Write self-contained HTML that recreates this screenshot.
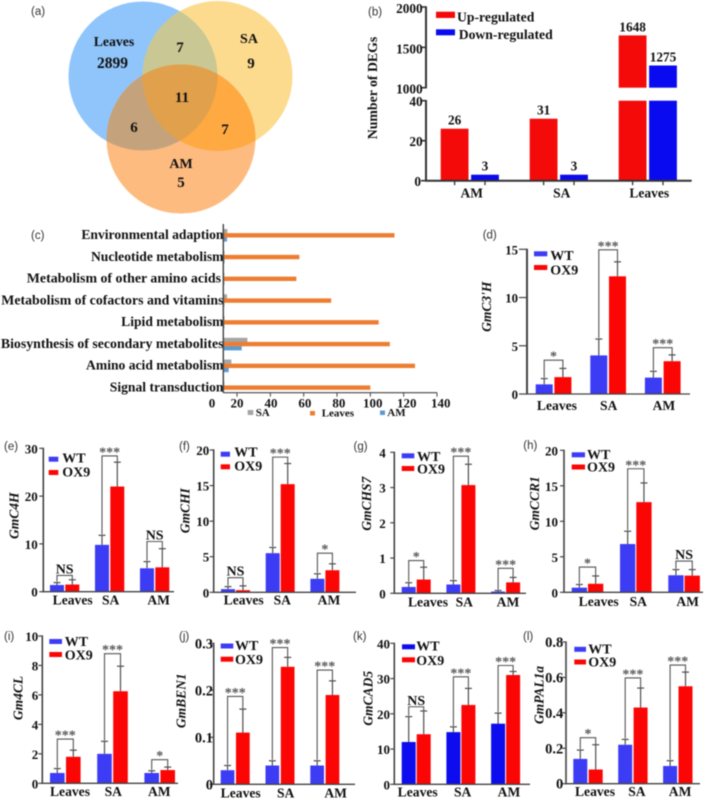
<!DOCTYPE html>
<html lang="en">
<head>
<meta charset="utf-8">
<title>DEG analysis and gene expression panels</title>
<style>
html,body{margin:0;padding:0;background:#fff;width:709px;height:799px;overflow:hidden}
svg{display:block;filter:blur(0.4px)}
text{font-family:"Liberation Serif",serif;font-weight:bold;fill:#111}
.plabel{font-family:"Liberation Sans",sans-serif;font-weight:normal;font-size:11.5px;fill:#333}
</style>
</head>
<body>
<svg id="fig" xmlns="http://www.w3.org/2000/svg" width="709" height="799" viewBox="0 0 709 799">
  <defs>
    <clipPath id="clip-sa"><circle cx="217.5" cy="76" r="75"/></clipPath>
    <clipPath id="clip-am"><circle cx="181" cy="139" r="74.5"/></clipPath>
  </defs>
  <g>
    <circle cx="143" cy="76" r="74.5" fill="#8fc5fb"/>
    <circle cx="217.5" cy="76" r="75" fill="#fcdb8e"/>
    <circle cx="181" cy="139" r="74.5" fill="#fdbb80"/>
    <circle cx="143" cy="76" r="74.5" fill="#c9c794" clip-path="url(#clip-sa)"/>
    <circle cx="143" cy="76" r="74.5" fill="#c4a37c" clip-path="url(#clip-am)"/>
    <circle cx="217.5" cy="76" r="75" fill="#fea942" clip-path="url(#clip-am)"/>
    <g clip-path="url(#clip-sa)"><circle cx="143" cy="76" r="74.5" fill="#e0a04c" clip-path="url(#clip-am)"/></g>
    <g text-anchor="middle" fill="#111">
      <text x="114" y="46" font-size="13.8">Leaves</text>
      <text x="112.5" y="68" font-size="15.5">2899</text>
      <text x="180" y="52" font-size="15">7</text>
      <text x="249" y="43" font-size="14">SA</text>
      <text x="251" y="68" font-size="15">9</text>
      <text x="182" y="102" font-size="15">11</text>
      <text x="134" y="132" font-size="15">6</text>
      <text x="225" y="134" font-size="15">7</text>
      <text x="181" y="168" font-size="14">AM</text>
      <text x="181" y="187" font-size="15">5</text>
    </g>
  </g>
  <g id="plot-root"></g>
</svg>
<script>
/* ---------- panel (b) data ---------- */
const degGroups = ['AM', 'SA', 'Leaves'];
const degUp = [26, 31, 1648];
const degDown = [3, 3, 1275];
const degTicksHigh = [1000, 1500, 2000];
const degTicksLow = [0, 20, 40];

/* ---------- panel (c) data ---------- */
const pathways = ['Environmental adaption', 'Nucleotide metabolism', 'Metabolism of other amino acids', 'Metabolism of cofactors and vitamins', 'Lipid metabolism', 'Biosynthesis of secondary metabolites', 'Amino acid metabolism', 'Signal transduction'];
const pathLeaves = [114.5, 57.4, 55.6, 76.5, 105, 111.7, 126.8, 100];
const pathSA = [14.2, 12.5, 12.4, 14, 12.5, 26.2, 16.6, 12.4];
const pathAM = [14, 12.5, 12.4, 12.4, 12.4, 22.8, 15, 11.8];
const pathTicks = [0, 20, 40, 60, 80, 100, 120, 140];

/* ---------- expression panels data ---------- */
const tissues = ['Leaves', 'SA', 'AM'];

const c3hWT = [1, 4, 1.7];
const c3hWTErr = [0.6, 1.7, 0.65];
const c3hOX = [1.75, 12.2, 3.4];
const c3hOXErr = [0.9, 1.5, 0.65];
const c3hSig = ['*', '***', '***'];
const c3hBracket = [3.5, 14.95, 4.8];
const c3hTicks = [0, 5, 10, 15];

const c4hWT = [1.4, 9.8, 4.9];
const c4hWTErr = [0.5, 2, 1.4];
const c4hOX = [1.5, 22, 5.1];
const c4hOXErr = [1, 5.1, 3.9];
const c4hSig = ['NS', '***', 'NS'];
const c4hBracket = [3.4, 28.4, 10.5];
const c4hTicks = [0, 10, 20, 30];

const chiWT = [0.45, 5.5, 1.9];
const chiWTErr = [0.35, 0.8, 0.7];
const chiOX = [0.3, 15.2, 3.1];
const chiOXErr = [0.6, 2.9, 0.9];
const chiSig = ['NS', '***', '*'];
const chiBracket = [2.05, 19, 5.5];
const chiTicks = [0, 5, 10, 15, 20];

const chs7WT = [0.18, 0.25, 0.05];
const chs7WTErr = [0.12, 0.11, 0.03];
const chs7OX = [0.39, 3.07, 0.31];
const chs7OXErr = [0.35, 0.59, 0.14];
const chs7Sig = ['*', '***', '***'];
const chs7Bracket = [0.93, 3.89, 0.71];
const chs7Ticks = [0, 1, 2, 3, 4];

const ccr1WT = [0.65, 6.8, 2.4];
const ccr1WTErr = [0.45, 1.8, 0.8];
const ccr1OX = [1.2, 12.7, 2.35];
const ccr1OXErr = [1.1, 2.7, 0.85];
const ccr1Sig = ['*', '***', 'NS'];
const ccr1Bracket = [3.55, 17.4, 4.4];
const ccr1Ticks = [0, 5, 10, 15, 20];

const cl4WT = [0.7, 2, 0.7];
const cl4WTErr = [0.3, 0.85, 0.15];
const cl4OX = [1.8, 6.25, 0.9];
const cl4OXErr = [0.45, 1.7, 0.2];
const cl4Sig = ['***', '***', '*'];
const cl4Bracket = [3, 8.8, 1.6];
const cl4Ticks = [0, 2, 4, 6, 8, 10];

const ben1WT = [0.03, 0.04, 0.04];
const ben1WTErr = [0.01, 0.01, 0.01];
const ben1OX = [0.11, 0.25, 0.19];
const ben1OXErr = [0.05, 0.02, 0.03];
const ben1Sig = ['***', '***', '***'];
const ben1Bracket = [0.187, 0.291, 0.243];
const ben1Ticks = ['0', '0.1', '0.2', '0.3'];

const cad5WT = [12, 14.8, 17.2];
const cad5WTErr = [7.2, 1.5, 3];
const cad5OX = [14.2, 22.5, 31];
const cad5OXErr = [6.6, 4.7, 1];
const cad5Sig = ['NS', '***', '***'];
const cad5Bracket = [22, 30.5, 33.7];
const cad5Ticks = [0, 10, 20, 30, 40];

const pal1aWT = [0.14, 0.22, 0.1];
const pal1aWTErr = [0.05, 0.03, 0.03];
const pal1aOX = [0.08, 0.43, 0.55];
const pal1aOXErr = [0.14, 0.11, 0.08];
const pal1aSig = ['*', '***', '***'];
const pal1aBracket = [0.26, 0.597, 0.67];
const pal1aTicks = ['0', '0.2', '0.4', '0.6', '0.8'];

/* ---------- helpers ---------- */
const SVGNS = 'http://www.w3.org/2000/svg';
const root = document.getElementById('plot-root');
function mk(parent, tag, attrs, name, txt) {
  const el = document.createElementNS(SVGNS, tag);
  for (const k in attrs) el.setAttribute(k, attrs[k]);
  
  
  if (txt !== undefined) el.textContent = txt;
  parent.appendChild(el);
  return el;
}
function line(p, x1, y1, x2, y2, color, w, name) {
  return mk(p, 'line', {x1: x1, y1: y1, x2: x2, y2: y2, stroke: color, 'stroke-width': w}, name);
}
function box(p, x1, y1, x2, y2, fill, name) {
  return mk(p, 'rect', {x: Math.min(x1, x2), y: Math.min(y1, y2), width: Math.abs(x2 - x1), height: Math.abs(y2 - y1), fill: fill}, name);
}
function label(p, x, y, size, anchor, str, name, extra) {
  const a = Object.assign({x: x, y: y, 'font-size': size, 'text-anchor': anchor}, extra || {});
  return mk(p, 'text', a, name, str);
}

/* ---------- panel letters ---------- */
[['(a)',31,15],['(b)',368,15.7],['(c)',31,239],['(d)',482.7,238.3],['(e)',4,450],['(f)',179,450],['(g)',353.5,450],['(h)',523.3,449],['(i)',4,640],['(j)',179,640],['(k)',353,640],['(l)',523,640]].forEach(function (l) {
  mk(root, 'text', {x: l[1], y: l[2], class: 'plabel'}, 'panel-label', l[0]);
});

/* ---------- panel (b) ---------- */
(function () {
  const g = mk(root, 'g', {}, 'deg-bar-chart');
  const axisX = 426, lowBase = 180.7, lowPerUnit = 2, highBase = 87.7, highPerUnit = 0.0807, axisColor = '#333';
  const yLow = function (v) { return lowBase - v * lowPerUnit; };
  const yHigh = function (v) { return highBase - (v - 1000) * highPerUnit; };
  const groupX = function (i) { return 440.7 + i * 89; };
  const barW = 27.8, gap = 2.6;
  function drawBar(x, v, fill, nm) {
    if (v <= 40) {
      box(g, x, lowBase, x + barW, yLow(v), fill, nm);
      return yLow(v);
    }
    box(g, x, lowBase, x + barW, yLow(40), fill, nm + '-lower');
    box(g, x, highBase, x + barW, yHigh(v), fill, nm + '-upper');
    return yHigh(v);
  }
  degGroups.forEach(function (name, i) {
    const x = groupX(i);
    const topU = drawBar(x, degUp[i], '#f50a0a', 'bar-up-' + name.toLowerCase());
    const topD = drawBar(x + barW + gap, degDown[i], '#0a0af0', 'bar-down-' + name.toLowerCase());
    label(g, x + barW / 2, topU - 4, 13.3, 'middle', String(degUp[i]), 'value-label');
    label(g, x + 1.5 * barW + gap, topD - 4, 13.3, 'middle', String(degDown[i]), 'value-label');
    line(g, x + barW / 2, lowBase, x + barW / 2, lowBase + 4.5, axisColor, 1.3, 'x-tick');
    line(g, x + 1.5 * barW + gap, lowBase, x + 1.5 * barW + gap, lowBase + 4.5, axisColor, 1.3, 'x-tick');
    label(g, x + barW + gap / 2 + [2, 3, 1.5][i], 197.7, 13.5, 'middle', name, 'x-category-label');
  });
  line(g, axisX, yHigh(2000) - 0.7, axisX, highBase + 0.7, axisColor, 2, 'y-axis-upper');
  line(g, axisX, yLow(40) - 0.7, axisX, lowBase, axisColor, 2, 'y-axis-lower');
  line(g, axisX - 1, lowBase, 691.7, lowBase, axisColor, 2, 'x-axis');
  degTicksHigh.forEach(function (t) {
    line(g, axisX - 5, yHigh(t), axisX, yHigh(t), axisColor, 1.6, 'y-tick');
    label(g, 422.7, yHigh(t) + 6, 13.3, 'end', String(t), 'y-tick-label');
  });
  degTicksLow.forEach(function (t) {
    line(g, axisX - 5, yLow(t), axisX, yLow(t), axisColor, 1.6, 'y-tick');
    label(g, t === 0 ? 421 : 422.7, yLow(t) + 5.5, 13.3, 'end', String(t), 'y-tick-label');
  });
  box(g, 436, 11.7, 455, 18, '#f50a0a', 'legend-up-swatch');
  label(g, 457, 21.7, 13.7, 'start', 'Up-regulated', 'legend-up-label');
  box(g, 436, 29.3, 455, 35.3, '#0a0af0', 'legend-down-swatch');
  label(g, 458.7, 39, 13.7, 'start', 'Down-regulated', 'legend-down-label');
  label(g, 377, 88, 13.8, 'middle', 'Number of DEGs', 'y-axis-title', {transform: 'rotate(-90 377 88)'});
})();

/* ---------- panel (c) ---------- */
(function () {
  const g = mk(root, 'g', {}, 'pathway-bar-chart');
  const axisX = 223.3, axisY = 392.7, axisColor = '#444';
  const x = function (v) { return 203.7 + v * 1.6665; };
  const tickLabelX = function (v) { return v === 0 ? 212 : 237 + (v - 20) * 1.6975; };
  const rowY = function (i) { return 235.3 + i * 21.76; };
  const labelSizes = [13.6, 13.6, 13.9, 13.85, 13.6, 13.85, 13.6, 13.6];
  const labelRight = [223.5, 223.5, 221, 223.5, 223.5, 223.5, 223.5, 223.5];
  pathways.forEach(function (name, i) {
    const c = rowY(i);
    box(g, axisX, c - 6.3, x(pathSA[i]), c - 2, '#a5a5a5', 'bar-sa');
    box(g, axisX, c + 2, x(pathAM[i]), c + 6.3, '#5b9bd5', 'bar-am');
    box(g, axisX, c - 2.2, x(pathLeaves[i]), c + 2.2, '#ed7d31', 'bar-leaves');
    label(g, labelRight[i], c + 3.8, labelSizes[i], 'end', name, 'y-category-label');
  });
  line(g, axisX, 224, axisX, axisY, axisColor, 1.4, 'y-axis');
  line(g, axisX, axisY, x(140), axisY, axisColor, 1.1, 'x-axis');
  pathTicks.forEach(function (t) {
    if (t > 0) line(g, x(t), axisY, x(t), axisY + 4, axisColor, 1, 'x-tick');
    label(g, tickLabelX(t), 407.7, 13, 'middle', String(t), 'x-tick-label');
  });
  box(g, 247.7, 410, 253.3, 415, '#a5a5a5', 'legend-sa-swatch');
  label(g, 255.7, 416, 11, 'start', 'SA', 'legend-sa-label');
  box(g, 310, 411, 315, 415.5, '#ed7d31', 'legend-leaves-swatch');
  label(g, 321.7, 416.7, 11, 'start', 'Leaves', 'legend-leaves-label');
  box(g, 380, 410.5, 385, 415, '#5b9bd5', 'legend-am-swatch');
  label(g, 387.3, 416, 11, 'start', 'AM', 'legend-am-label');
})();

/* ---------- expression panels ---------- */
function expressionPanel(o) {
  const g = mk(root, 'g', {}, 'chart-' + o.key);
  const axisColor = '#444', errColor = '#4d4d4d';
  const y = function (v) { return o.y0 - (v / o.yMax) * (o.y0 - o.yTop); };
  const wtX = function (i) { return o.x0 + i * o.step; };
  const oxX = function (i) { return wtX(i) + o.w + o.gap; };
  tissues.forEach(function (name, i) {
    const lx = wtX(i), rx = oxX(i), cl = lx + o.w / 2, cr = rx + o.w / 2;
    const wtTop = y(o.wt[i] + o.wtErr[i]), oxTop = y(o.ox[i] + o.oxErr[i]);
    line(g, cl, y(o.wt[i]), cl, wtTop, errColor, 1.2, 'error-bar-wt');
    line(g, cl - 3.5, wtTop, cl + 3.5, wtTop, errColor, 1.2, 'error-cap-wt');
    line(g, cr, y(o.ox[i]), cr, oxTop, errColor, 1.2, 'error-bar-ox9');
    line(g, cr - 3.5, oxTop, cr + 3.5, oxTop, errColor, 1.2, 'error-cap-ox9');
    box(g, lx, o.y0, lx + o.w, y(o.wt[i]), o.wtColor || '#3c3cf5', 'bar-wt-' + name.toLowerCase());
    box(g, rx, o.y0, rx + o.w, y(o.ox[i]), '#fb0505', 'bar-ox9-' + name.toLowerCase());
    const by = y(o.bracket[i]);
    mk(g, 'path', {d: 'M' + cl + ' ' + (wtTop - 1) + 'V' + by + 'H' + cr + 'V' + oxTop, fill: 'none', stroke: '#555', 'stroke-width': 1.1}, 'significance-bracket');
    if (o.sig[i] === 'NS') {
      label(g, (cl + cr) / 2, by - 2, 14, 'middle', 'NS', 'significance-label');
    } else {
      label(g, (cl + cr) / 2, by + 0.5, 14, 'middle', o.sig[i], 'significance-label', {style: 'fill:#555'});
    }
    label(g, (cl + cr) / 2 + o.catNudge[i], o.catY, 13.6, 'middle', name, 'x-category-label');
  });
  line(g, o.axisX, o.y0 + 0.5, o.axisX, o.yTop - 0.6, axisColor, o.axisW || 1.6, 'y-axis');
  line(g, o.axisX - 1, o.y0, o.xEnd, o.y0, axisColor, 1.3, 'x-axis');
  o.ticks.forEach(function (t) {
    const v = Number(t);
    line(g, o.axisX - (o.tickLen || 4), y(v), o.axisX, y(v), axisColor, 1.2, 'y-tick');
    label(g, o.tickRight, y(v) + 5, o.tickSize || 13, 'end', String(t), 'y-tick-label');
  });
  box(g, o.legX, o.legY1, o.legX + o.legW, o.legY1 + 5, o.wtColor || '#3c3cf5', 'legend-wt-swatch');
  box(g, o.legX, o.legY2, o.legX + o.legW, o.legY2 + 5, '#fb0505', 'legend-ox9-swatch');
  label(g, o.legTextX, o.legB1, 14, 'start', 'WT', 'legend-wt-label');
  label(g, o.legTextX, o.legB2, 14, 'start', 'OX9', 'legend-ox9-label');
  label(g, o.titleX + 4, o.titleY, 13.5, 'middle', o.title, 'y-axis-title', {transform: 'rotate(-90 ' + (o.titleX + 4) + ' ' + o.titleY + ')', 'font-style': 'italic'});
}

expressionPanel({key: 'gmc3h', title: "GmC3'H", wt: c3hWT, wtErr: c3hWTErr, ox: c3hOX, oxErr: c3hOXErr, sig: c3hSig, bracket: c3hBracket, ticks: c3hTicks,
  yMax: 15, y0: 394, yTop: 249.3, x0: 535.7, step: 54.6, w: 17, gap: 1.7, axisX: 527, axisW: 2, tickLen: 8, xEnd: 690, tickRight: 518, tickSize: 12.8,
  catNudge: [3.4, 0.5, 1.2], catY: 410, legX: 534, legW: 13.3, legY1: 251.3, legY2: 265, legTextX: 550.3, legB1: 260, legB2: 274.3, titleX: 487, titleY: 306.7});
expressionPanel({key: 'gmc4h', title: 'GmC4H', wt: c4hWT, wtErr: c4hWTErr, ox: c4hOX, oxErr: c4hOXErr, sig: c4hSig, bracket: c4hBracket, ticks: c4hTicks,
  yMax: 30, y0: 591.7, yTop: 448.3, x0: 50, step: 45, w: 14, gap: 1.3, axisX: 43.3, xEnd: 174, tickRight: 37.7,
  catNudge: [8, 1, 4], catY: 604.3, legX: 48.7, legW: 9.6, legY1: 456.7, legY2: 470, legTextX: 62.3, legB1: 462.7, legB2: 476.7, titleX: 14.7, titleY: 515.7});
expressionPanel({key: 'gmchi', title: 'GmCHI', wt: chiWT, wtErr: chiWTErr, ox: chiOX, oxErr: chiOXErr, sig: chiSig, bracket: chiBracket, ticks: chiTicks,
  yMax: 20, y0: 592.3, yTop: 450, x0: 221, step: 44.7, w: 14, gap: 1, axisX: 213.7, xEnd: 356, tickRight: 209.3,
  catNudge: [8.2, 2.1, 4.1], catY: 604.3, legX: 220.7, legW: 9.3, legY1: 451.7, legY2: 464.3, legTextX: 234.3, legB1: 456.7, legB2: 470.7, titleX: 185.3, titleY: 510.7});
expressionPanel({key: 'gmchs7', title: 'GmCHS7', wt: chs7WT, wtErr: chs7WTErr, ox: chs7OX, oxErr: chs7OXErr, sig: chs7Sig, bracket: chs7Bracket, ticks: chs7Ticks,
  yMax: 4, y0: 593.3, yTop: 452.3, x0: 401.7, step: 44.7, w: 14, gap: 1, axisX: 394.3, xEnd: 526, tickRight: 385.7,
  catNudge: [11.8, 3.4, 2.4], catY: 606.7, legX: 401.7, legW: 12.6, legY1: 453.3, legY2: 466, legTextX: 417, legB1: 461, legB2: 473.3, titleX: 367, titleY: 503.7});
expressionPanel({key: 'gmccr1', title: 'GmCCR1', wt: ccr1WT, wtErr: ccr1WTErr, ox: ccr1OX, oxErr: ccr1OXErr, sig: ccr1Sig, bracket: ccr1Bracket, ticks: ccr1Ticks,
  yMax: 20, y0: 592.3, yTop: 450.3, x0: 571.7, step: 48.3, w: 15.3, gap: 1, axisX: 564, xEnd: 703, tickRight: 558,
  catNudge: [11.2, 2.5, 3.6], catY: 606, legX: 571.7, legW: 13.3, legY1: 452.3, legY2: 464.5, legTextX: 587, legB1: 459, legB2: 471.7, titleX: 535, titleY: 503.3});
expressionPanel({key: 'gm4cl', title: 'Gm4CL', wt: cl4WT, wtErr: cl4WTErr, ox: cl4OX, oxErr: cl4OXErr, sig: cl4Sig, bracket: cl4Bracket, ticks: cl4Ticks,
  yMax: 10, y0: 783.3, yTop: 636, x0: 50, step: 47.2, w: 14.6, gap: 1.4, axisX: 42.3, xEnd: 178, tickRight: 38.3,
  catNudge: [4.7, 0.8, -0.4], catY: 796, legX: 49.3, legW: 12.7, legY1: 639, legY2: 652, legTextX: 64.7, legB1: 646, legB2: 659.3, titleX: 18.3, titleY: 698});
expressionPanel({key: 'gmben1', title: 'GmBEN1', wt: ben1WT, wtErr: ben1WTErr, ox: ben1OX, oxErr: ben1OXErr, sig: ben1Sig, bracket: ben1Bracket, ticks: ben1Ticks,
  yMax: 0.3, y0: 784.3, yTop: 643.3, x0: 220.7, step: 44.8, w: 13.7, gap: 1.6, axisX: 213.7, xEnd: 355, tickRight: 213, tickSize: 14.5,
  catNudge: [5.5, 5.7, 10.9], catY: 797.7, legX: 220.7, legW: 12.6, legY1: 643.5, legY2: 656.7, legTextX: 235, legB1: 650, legB2: 664, titleX: 181.7, titleY: 700.7});
expressionPanel({key: 'gmcad5', title: 'GmCAD5', wt: cad5WT, wtErr: cad5WTErr, ox: cad5OX, oxErr: cad5OXErr, sig: cad5Sig, bracket: cad5Bracket, ticks: cad5Ticks,
  yMax: 40, y0: 784.3, yTop: 643.3, x0: 401.7, step: 44.7, w: 14, gap: 1, axisX: 394.3, xEnd: 530, tickRight: 390, wtColor: '#0c0cee',
  catNudge: [1.5, 1.8, 3.4], catY: 796.7, legX: 402, legW: 13, legY1: 644.3, legY2: 657.3, legTextX: 416.3, legB1: 650.7, legB2: 665, titleX: 368.3, titleY: 698.3});
expressionPanel({key: 'gmpal1a', title: 'GmPAL1a', wt: pal1aWT, wtErr: pal1aWTErr, ox: pal1aOX, oxErr: pal1aOXErr, sig: pal1aSig, bracket: pal1aBracket, ticks: pal1aTicks,
  yMax: 0.8, y0: 783.7, yTop: 642, x0: 573.3, step: 44.9, w: 14, gap: 1.4, axisX: 566, xEnd: 700, tickRight: 563.3, tickSize: 14.5,
  catNudge: [7, 4, 2.3], catY: 796, legX: 574.3, legW: 11.7, legY1: 646.8, legY2: 659.5, legTextX: 588.3, legB1: 653.3, legB2: 666.7, titleX: 539.3, titleY: 695});
</script>
</body>
</html>
